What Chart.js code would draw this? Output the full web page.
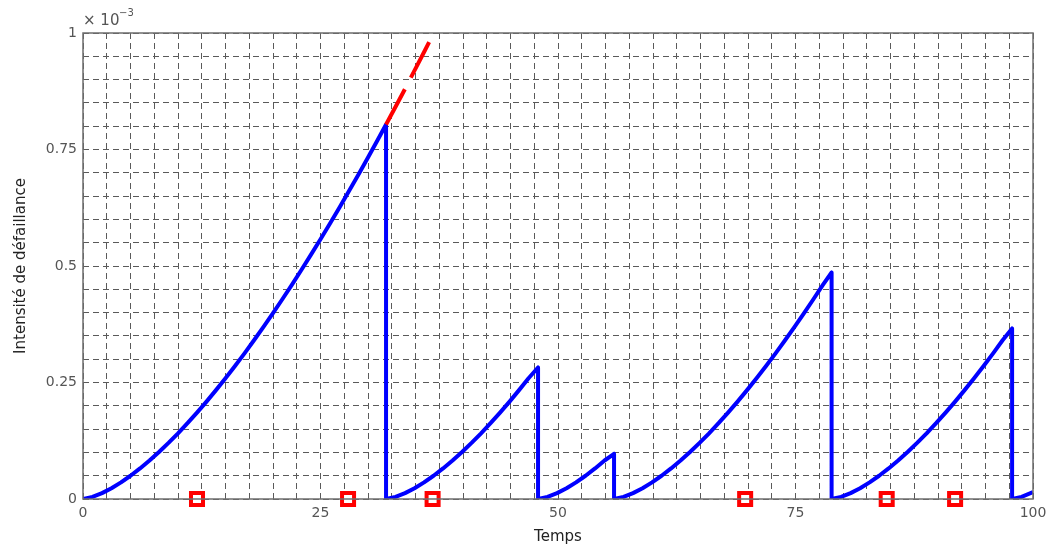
<!DOCTYPE html>
<html>
<head>
<meta charset="utf-8">
<script src="https://cdn.jsdelivr.net/npm/chart.js@4/dist/chart.umd.min.js"></script>
<style>
  html, body { margin: 0; padding: 0; background: #fff; }
  canvas { display: block; }
</style>
</head>
<body>
<canvas id="chart" width="1048" height="546"></canvas>
<script>
// intensité de défaillance (x 10^-3), remise à zéro à chaque maintenance
const tBlue = [
  0, 1, 2, 3, 4, 5, 6, 7, 8, 9, 10, 11, 12, 13, 14, 15, 16, 17, 18, 19, 20, 21, 22, 23, 24, 25, 26, 27, 28, 29, 30, 31, 31.9,
  31.9, 32.9, 33.9, 34.9, 35.9, 36.9, 37.9, 38.9, 39.9, 40.9, 41.9, 42.9, 43.9, 44.9, 45.9, 46.9, 47.9,
  47.9, 48.9, 49.9, 50.9, 51.9, 52.9, 53.9, 54.9, 55.9,
  55.9, 56.9, 57.9, 58.9, 59.9, 60.9, 61.9, 62.9, 63.9, 64.9, 65.9, 66.9, 67.9, 68.9, 69.9, 70.9, 71.9, 72.9, 73.9, 74.9, 75.9, 76.9, 77.9, 78.8,
  78.8, 79.8, 80.8, 81.8, 82.8, 83.8, 84.8, 85.8, 86.8, 87.8, 88.8, 89.8, 90.8, 91.8, 92.8, 93.8, 94.8, 95.8, 96.8, 97.8,
  97.8, 98.8, 100
];
const yBlue = [
  0, 0.0045, 0.0126, 0.0232, 0.0357, 0.0499, 0.0656, 0.0826, 0.1009, 0.1204, 0.141, 0.1627, 0.1854, 0.209, 0.2336, 0.2591,
  0.2854, 0.3126, 0.3406, 0.3694, 0.3989, 0.4292, 0.4602, 0.4919, 0.5244, 0.5575, 0.5913, 0.6257, 0.6608, 0.6965, 0.7329, 0.7698, 0.8036,
  0, 0.0045, 0.0126, 0.0232, 0.0357, 0.0499, 0.0656, 0.0826, 0.1009, 0.1204, 0.141, 0.1627, 0.1854, 0.209, 0.2336, 0.2591, 0.2822,
  0, 0.0045, 0.0126, 0.0232, 0.0357, 0.0499, 0.0656, 0.0826, 0.097,
  0, 0.0045, 0.0126, 0.0232, 0.0357, 0.0499, 0.0656, 0.0826, 0.1009, 0.1204, 0.141, 0.1627, 0.1854, 0.209, 0.2336, 0.2591,
  0.2854, 0.3126, 0.3406, 0.3694, 0.3989, 0.4292, 0.4602, 0.486,
  0, 0.0045, 0.0126, 0.0232, 0.0357, 0.0499, 0.0656, 0.0826, 0.1009, 0.1204, 0.141, 0.1627, 0.1854, 0.209, 0.2336, 0.2591,
  0.2854, 0.3126, 0.3406, 0.366,
  0, 0.0045, 0.0146
];

// sans maintenance
const tRed = [31.9, 33, 34, 35, 36, 36.5];
const yRed = [0.8036, 0.8455, 0.884, 0.9235, 0.963, 0.983];

// instants de maintenance
const tMaint = [12, 27.9, 36.8, 69.7, 84.6, 91.8];

const xLabels = [0, 25, 50, 75, 100];
const yLabels = [0, 0.25, 0.5, 0.75, 1];

const FONT = "'DejaVu Sans', sans-serif";

const toPts = (xs, ys) => xs.map((x, i) => ({ x: x, y: ys[i] }));

// cadre complet + facteur d'échelle
const framePlugin = {
  id: 'frame',
  afterDatasetsDraw(chart) {
    const a = chart.chartArea;
    const ctx = chart.ctx;
    ctx.save();
    ctx.strokeStyle = '#6e6e6e';
    ctx.lineWidth = 1.5;
    ctx.strokeRect(a.left, a.top, a.right - a.left, a.bottom - a.top);
    ctx.fillStyle = '#555';
    ctx.font = "15px " + FONT;
    ctx.textBaseline = 'alphabetic';
    ctx.fillText('\u00d7 10', a.left, a.top - 8);
    ctx.font = "10px " + FONT;
    ctx.fillText('\u22123', a.left + 36, a.top - 17);
    ctx.restore();
  }
};

const gridStyle = {
  color: '#5a5a5a',
  lineWidth: 1,
  drawTicks: false
};

new Chart(document.getElementById('chart').getContext('2d'), {
  type: 'line',
  data: {
    datasets: [
      {
        data: toPts(tRed, yRed),
        borderColor: '#ff0000',
        borderWidth: 4,
        borderDash: [40, 13],
        pointRadius: 0,
        tension: 0
      },
      {
        data: toPts(tBlue, yBlue),
        borderColor: '#0000ff',
        borderWidth: 4,
        pointRadius: 0,
        tension: 0,
        borderJoinStyle: 'round'
      },
      {
        data: tMaint.map(t => ({ x: t, y: 0 })),
        showLine: false,
        pointStyle: 'rect',
        pointRadius: 8.5,
        pointBorderWidth: 4,
        pointBorderColor: '#ff0000',
        pointBackgroundColor: '#ffffff',
        clip: false
      }
    ]
  },
  options: {
    responsive: false,
    animation: false,
    layout: { padding: { top: 33, right: 0, left: 0, bottom: 0 } },
    plugins: {
      legend: { display: false },
      tooltip: { enabled: false }
    },
    scales: {
      x: {
        type: 'linear',
        min: 0,
        max: 100,
        border: { display: false, dash: [6, 4] },
        grid: gridStyle,
        ticks: {
          stepSize: 2.5,
          autoSkip: false,
          maxRotation: 0,
          padding: 6,
          color: '#555',
          font: { family: FONT, size: 14 },
          callback: v => xLabels.includes(v) ? String(v) : ''
        },
        title: {
          display: true,
          text: 'Temps',
          color: '#222',
          font: { family: FONT, size: 15 },
          padding: { top: 0, bottom: 0 }
        },
        afterFit: s => { s.height = 47; s.paddingRight = 15; }
      },
      y: {
        min: 0,
        max: 1,
        border: { display: false, dash: [6, 4] },
        grid: gridStyle,
        ticks: {
          stepSize: 0.05,
          autoSkip: false,
          padding: 6,
          color: '#555',
          font: { family: FONT, size: 14 },
          callback: v => {
            const r = Math.round(v * 100) / 100;
            return yLabels.includes(r) ? String(r) : '';
          }
        },
        title: {
          display: true,
          text: 'Intensité de défaillance',
          color: '#222',
          font: { family: FONT, size: 15 },
          padding: { top: 12, bottom: 4 }
        },
        afterFit: s => { s.width = 83; }
      }
    }
  },
  plugins: [framePlugin]
});
</script>
</body>
</html>
